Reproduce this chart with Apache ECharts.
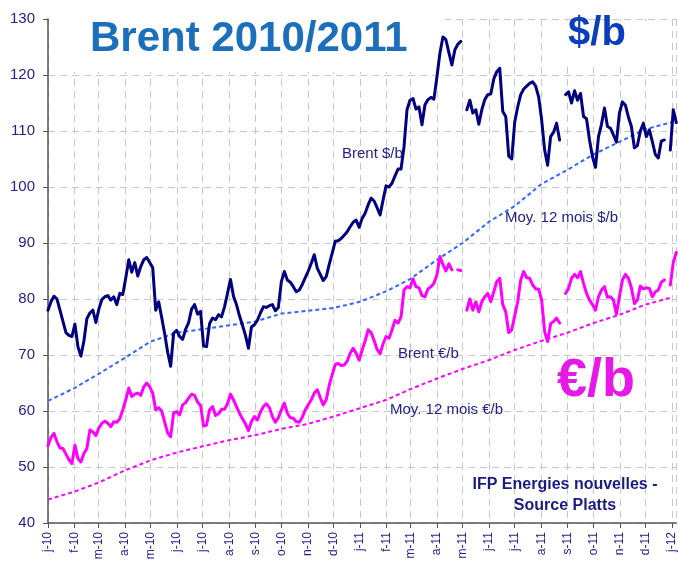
<!DOCTYPE html>
<html>
<head>
<meta charset="utf-8">
<title>Brent 2010/2011</title>
<script src="https://cdn.jsdelivr.net/npm/echarts@6/dist/echarts.min.js"></script>
<style>
  html, body { margin: 0; padding: 0; background: #fff; }
  #chart { width: 678px; height: 565px; }
</style>
</head>
<body>
<div id="chart"></div>
<script>
// initiales des mois pour l'axe des x
const monthInitials = ['j', 'f', 'm', 'a', 'm', 'j', 'j', 'a', 's', 'o', 'n', 'd'];

// Brent $/b, un point tous les 3,5 jours depuis le 1er janvier 2010
const brentUsd = [
  78.0, 79.5, 80.5, 80.0, 78.0, 76.0, 74.0, 73.5, 73.3, 75.5,
  71.5, 69.8, 72.5, 76.5, 77.5, 78.0, 75.8, 78.2, 79.9, 80.4,
  80.6, 79.8, 80.4, 79.0, 81.0, 80.8, 83.8, 87.0, 84.8, 86.5,
  84.1, 85.8, 87.0, 87.4, 86.5, 85.6, 78.0, 79.5, 76.7, 73.8,
  70.5, 68.0, 73.9, 74.4, 73.3, 72.8, 74.6, 75.8, 78.2, 79.0,
  77.3, 77.8, 71.6, 71.5, 75.6, 76.6, 76.3, 77.2, 76.8, 78.6,
  81.0, 83.5, 80.5, 79.0, 77.0, 75.3, 73.5, 71.2, 75.0, 75.4,
  76.2, 77.5, 78.6, 78.5, 78.8, 79.0, 77.9, 78.5, 83.1, 84.9,
  83.4, 83.0, 82.2, 81.3, 81.6, 82.6, 83.8, 85.0, 86.4, 87.9,
  85.5, 84.4, 83.3, 84.0, 86.2, 88.2, 90.3, 90.4, 90.8, 91.4,
  92.0, 92.9, 93.7, 94.1, 92.8, 94.4, 95.3, 96.8, 98.0, 97.5,
  96.3, 95.0, 97.7, 100.2, 100.0, 100.7, 102.0, 103.2, 103.2, 107.2,
  113.8, 115.5, 115.8, 113.9, 114.3, 111.1, 114.7, 115.6, 116.0, 115.7,
  119.7, 123.9, 126.8, 126.3, 124.0, 121.8, 124.5, 125.5, 126.0, null,
  113.8, 115.5, 113.2, 113.8, 111.2, 113.8, 115.6, 116.5, 116.6, 119.3,
  120.6, 121.2, 113.5, 112.6, 105.5, 105.0, 111.6, 114.3, 116.5, 117.5,
  118.0, 118.5, 118.8, 118.0, 116.1, 112.0, 106.6, 103.9, 109.0, 109.8,
  111.4, 108.4, null, 116.5, 117.0, 115.0, 117.2, 115.5, 116.7, 112.6,
  112.2, 108.4, 105.4, 103.5, 109.0, 111.2, 114.1, 110.8, 110.5, 109.3,
  108.0, 113.2, 115.2, 114.6, 112.5, 110.8, 107.0, 107.4, 110.0, 111.4,
  109.0, 110.2, 108.1, 105.8, 105.2, 108.2, 108.4, null, 106.6, 113.8,
  111.5
];

// Brent €/b, mêmes dates
const brentEur = [
  53.8, 55.3, 56.0, 54.5, 53.4, 53.3, 52.3, 51.3, 50.6, 53.9,
  51.5, 50.9, 52.4, 53.3, 56.6, 56.3, 55.6, 57.0, 57.8, 58.2,
  57.8, 57.2, 58.1, 58.0, 58.6, 60.2, 62.0, 64.1, 62.6, 63.0,
  63.2, 62.8, 64.3, 65.0, 64.3, 63.2, 60.2, 60.6, 60.0, 58.0,
  56.1, 55.4, 59.7, 59.9, 59.3, 61.1, 61.5, 62.3, 63.0, 62.8,
  61.6, 61.0, 57.3, 57.5, 60.2, 60.8, 59.2, 59.5, 60.3, 60.3,
  61.3, 63.0, 62.0, 60.8, 59.6, 58.6, 57.7, 56.5, 58.1, 59.0,
  58.4, 59.8, 60.8, 61.3, 60.6, 59.0, 58.0, 58.8, 60.2, 61.4,
  59.6, 58.8, 58.7, 58.1, 58.0, 58.9, 60.2, 61.1, 62.0, 63.2,
  63.8, 62.4, 61.1, 62.0, 64.6, 66.5, 68.3, 68.5, 68.1, 68.2,
  68.9, 70.3, 71.2, 70.3, 69.1, 70.9, 72.5, 74.5, 74.0, 72.6,
  71.0, 70.2, 72.0, 73.3, 73.0, 74.5, 76.2, 75.7, 76.8, 81.6,
  82.2, 82.0, 83.6, 82.2, 82.0, 80.6, 80.4, 81.8, 82.2, 82.8,
  84.3, 87.6, 86.2, 85.0, 86.3, 85.2, null, 85.2, 85.1, null,
  78.0, 80.0, 78.0, 79.5, 77.7, 79.5, 80.4, 81.0, 79.5, 81.3,
  83.1, 83.7, 79.0, 77.7, 74.0, 74.5, 77.0, 79.5, 83.4, 84.9,
  83.8, 83.7, 82.5, 81.8, 81.8, 79.8, 74.2, 72.4, 75.6, 76.0,
  76.6, 75.7, null, 81.0, 81.9, 83.7, 84.4, 83.8, 84.9, 82.8,
  81.0, 79.8, 79.0, 78.0, 80.4, 81.6, 82.2, 80.3, 80.4, 79.8,
  77.3, 80.4, 83.4, 84.4, 83.7, 82.0, 79.2, 79.8, 82.3, 81.8,
  82.0, 81.9, 80.4, 81.3, 81.6, 83.0, 83.4, null, 82.5, 86.5,
  88.3
];

// moyennes mobiles 12 mois, au 1er de chaque mois (janv. 2010 -> janv. 2012)
const maUsd = [61.8, 64.1, 66.6, 69.5, 72.4, 74.0, 74.6, 75.3, 76.0, 77.4, 77.9, 78.4,
  79.5, 81.4, 83.6, 87.0, 90.0, 93.8, 96.6, 100.5, 103.1, 105.8, 108.1, 110.3, 111.6];
const maEur = [44.2, 45.6, 47.2, 49.4, 51.2, 52.6, 53.7, 54.8, 55.7, 56.8, 57.7, 59.0,
  60.5, 62.0, 63.9, 65.8, 67.5, 69.1, 70.9, 72.5, 74.0, 75.7, 77.2, 79.0, 80.3];

const DAY = 86400000;
const t0 = Date.UTC(2010, 0, 1);
const tEnd = Date.UTC(2012, 0, 6);
const dailyDates = brentUsd.map((_, i) => t0 + i * 3.5 * DAY);
const monthDates = maUsd.map((_, i) => Date.UTC(2010, i, 1));

const FONT = '"Liberation Sans", Arial, sans-serif';
const NAVY_TXT = '#22228a';
const GRID_LINE = { color: '#c8c8c8', width: 1, type: [7, 5] };

const chart = echarts.init(document.getElementById('chart'));

const option = {
  animation: false,
  useUTC: true,
  textStyle: { fontFamily: FONT },
  grid: { left: 48, right: 1, top: 19, bottom: 42 },
  xAxis: {
    type: 'time',
    min: t0,
    max: tEnd,
    splitNumber: 24,
    minInterval: 28 * DAY,
    maxInterval: 31 * DAY,
    axisLine: { lineStyle: { color: '#555', width: 1.5 } },
    axisTick: { show: true, length: 5, lineStyle: { color: '#555' } },
    axisLabel: {
      rotate: 90,
      color: NAVY_TXT,
      fontSize: 12,
      margin: 9,
      fontFamily: FONT,
      formatter: function (value) {
        const d = new Date(value);
        if (d.getUTCDate() !== 1) return '';
        return monthInitials[d.getUTCMonth()] + '-' + String(d.getUTCFullYear() % 100).padStart(2, '0');
      }
    },
    splitLine: { show: true, lineStyle: GRID_LINE }
  },
  yAxis: {
    type: 'value',
    min: 40,
    max: 130,
    interval: 10,
    axisLine: { show: true, lineStyle: { color: '#555', width: 1.5 } },
    axisTick: { show: true, length: 5, lineStyle: { color: '#555' } },
    axisLabel: { color: NAVY_TXT, fontSize: 15, margin: 13, fontFamily: FONT },
    splitLine: { show: true, lineStyle: GRID_LINE }
  },
  graphic: [
    // fonds blancs derrière les titres
    { type: 'rect', z: 1, shape: { x: 49, y: 0, width: 396, height: 72 }, style: { fill: '#fff' } },
    { type: 'rect', z: 1, shape: { x: 545, y: 21, width: 105, height: 45 }, style: { fill: '#fff' } },
    { type: 'text', z: 100, x: 90, y: 39,
      style: { text: 'Brent 2010/2011', fill: '#1c6fba', fontSize: 42, fontWeight: 'bold', fontFamily: FONT, textAlign: 'left', textVerticalAlign: 'middle' } },
    { type: 'text', z: 100, x: 597, y: 34,
      style: { text: '$/b', fill: '#0b3dbd', fontSize: 40, fontWeight: 'bold', fontFamily: FONT, textAlign: 'center', textVerticalAlign: 'middle' } },
    { type: 'text', z: 100, x: 596, y: 381,
      style: { text: '€/b', fill: '#e619e6', fontSize: 54, fontWeight: 'bold', fontFamily: FONT, textAlign: 'center', textVerticalAlign: 'middle' } },
    { type: 'text', z: 100, x: 342, y: 154,
      style: { text: 'Brent $/b', fill: NAVY_TXT, fontSize: 15, fontFamily: FONT, textAlign: 'left', textVerticalAlign: 'middle' } },
    { type: 'text', z: 100, x: 505, y: 218,
      style: { text: 'Moy. 12 mois $/b', fill: NAVY_TXT, fontSize: 15, fontFamily: FONT, textAlign: 'left', textVerticalAlign: 'middle' } },
    { type: 'text', z: 100, x: 398, y: 354,
      style: { text: 'Brent €/b', fill: NAVY_TXT, fontSize: 15, fontFamily: FONT, textAlign: 'left', textVerticalAlign: 'middle' } },
    { type: 'text', z: 100, x: 390, y: 410,
      style: { text: 'Moy. 12 mois €/b', fill: NAVY_TXT, fontSize: 15, fontFamily: FONT, textAlign: 'left', textVerticalAlign: 'middle' } },
    { type: 'text', z: 100, x: 565, y: 485,
      style: { text: 'IFP Energies nouvelles -', fill: '#1a1a80', fontSize: 16, fontWeight: 'bold', fontFamily: FONT, textAlign: 'center', textVerticalAlign: 'middle' } },
    { type: 'text', z: 100, x: 565, y: 506,
      style: { text: 'Source Platts', fill: '#1a1a80', fontSize: 16, fontWeight: 'bold', fontFamily: FONT, textAlign: 'center', textVerticalAlign: 'middle' } }
  ],
  series: [
    {
      name: 'Moy. 12 mois $/b',
      type: 'line',
      data: monthDates.map((d, i) => [d, maUsd[i]]),
      showSymbol: false,
      lineStyle: { color: '#3366ff', width: 2, type: [4, 3] }
    },
    {
      name: 'Moy. 12 mois €/b',
      type: 'line',
      data: monthDates.map((d, i) => [d, maEur[i]]),
      showSymbol: false,
      lineStyle: { color: '#ff00ff', width: 2, type: [4, 3] }
    },
    {
      name: 'Brent €/b',
      type: 'line',
      data: dailyDates.map((d, i) => [d, brentEur[i]]),
      showSymbol: false,
      connectNulls: false,
      lineStyle: { color: '#ff00ff', width: 3, join: 'round', cap: 'round' }
    },
    {
      name: 'Brent $/b',
      type: 'line',
      data: dailyDates.map((d, i) => [d, brentUsd[i]]),
      showSymbol: false,
      connectNulls: false,
      lineStyle: { color: '#000080', width: 3, join: 'round', cap: 'round' }
    }
  ]
};

chart.setOption(option);
</script>
</body>
</html>
